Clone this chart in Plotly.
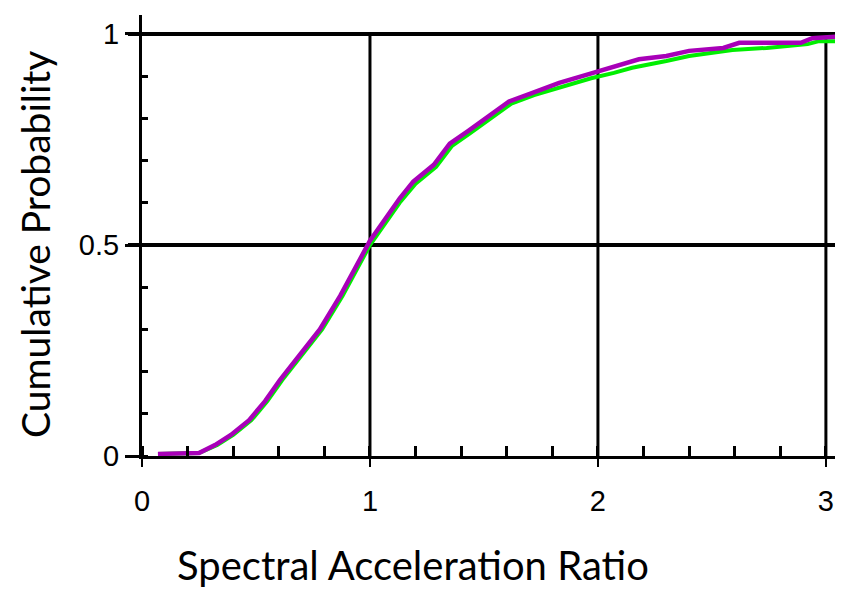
import plotly.graph_objects as go

# Data
x_magenta = [0.07, 0.25, 0.32, 0.39, 0.47, 0.54, 0.605, 0.69, 0.78, 0.87, 0.93, 1.0,
             1.13, 1.19, 1.28, 1.35, 1.43, 1.51, 1.61, 1.71, 1.83, 1.96, 2.08, 2.18,
             2.30, 2.40, 2.55, 2.62, 2.89, 2.94, 3.08]
y_magenta = [0.005, 0.007, 0.026, 0.05, 0.085, 0.13, 0.18, 0.24, 0.30, 0.38, 0.44, 0.51,
             0.61, 0.65, 0.69, 0.74, 0.77, 0.80, 0.84, 0.86, 0.884, 0.905, 0.924, 0.94,
             0.948, 0.96, 0.967, 0.979, 0.979, 0.99, 0.995]

x_green = [0.07, 0.25, 0.33, 0.40, 0.48, 0.55, 0.615, 0.70, 0.79, 0.88, 0.94, 1.0,
           1.13, 1.20, 1.29, 1.36, 1.44, 1.52, 1.62, 1.72, 1.84, 1.97, 2.07, 2.15,
           2.30, 2.40, 2.59, 2.74, 2.92, 2.97, 3.08]
y_green = [0.005, 0.007, 0.026, 0.05, 0.085, 0.13, 0.18, 0.24, 0.30, 0.38, 0.44, 0.50,
           0.60, 0.645, 0.685, 0.735, 0.765, 0.795, 0.835, 0.855, 0.875, 0.895, 0.908, 0.92,
           0.936, 0.948, 0.962, 0.967, 0.976, 0.983, 0.983]

x_ticks = [0, 1, 2, 3]
x_tick_labels = ["0", "1", "2", "3"]
y_ticks = [0, 0.5, 1]
y_tick_labels = ["0", "0.5", "1"]
x_title = "Spectral Acceleration Ratio"
y_title = "Cumulative Probability"

fig = go.Figure()
fig.add_trace(go.Scatter(x=x_green, y=y_green, mode="lines",
                         line=dict(color="#00ee00", width=4), showlegend=False))
fig.add_trace(go.Scatter(x=x_magenta, y=y_magenta, mode="lines",
                         line=dict(color="#a800b8", width=4.5), showlegend=False))

# reference lines (grid)
for xv in [1, 2, 3]:
    fig.add_shape(type="line", x0=xv, x1=xv, y0=0, y1=1, xref="x", yref="y",
                  line=dict(color="black", width=3), layer="below")
for yv in [0.5, 1]:
    fig.add_shape(type="line", x0=-0.02, x1=1, y0=yv, y1=yv, xref="paper", yref="y",
                  line=dict(color="black", width=4), layer="below")

tick_font = dict(size=29, family="Liberation Sans, Arial, sans-serif", color="black")

# page body has an 8px default margin; compensate so the plot sits where the reference has it
fig.update_layout(
    width=835, height=584,
    margin=dict(l=134, r=0, t=7, b=136, autoexpand=False),
    plot_bgcolor="white", paper_bgcolor="white",
    font=dict(family="Liberation Sans, Arial, sans-serif", color="black"),
    xaxis=dict(range=[0, 3.075], showgrid=False, zeroline=False, automargin=False,
               showline=True, linecolor="black", linewidth=3,
               tickmode="array", tickvals=x_ticks, ticktext=x_tick_labels,
               ticks="outside", ticklen=8, tickwidth=2, tickcolor="black",
               ticklabelstandoff=9,
               tickfont=tick_font,
               minor=dict(dtick=0.2, tick0=0, ticks="inside", ticklen=10,
                          tickwidth=3, tickcolor="black", showgrid=False)),
    yaxis=dict(range=[0, 1.045], showgrid=False, zeroline=False, automargin=False,
               showline=True, linecolor="black", linewidth=3,
               tickmode="array", tickvals=y_ticks, ticktext=y_tick_labels,
               ticks="outside", ticklen=14, tickwidth=3, tickcolor="black",
               ticklabelstandoff=0,
               tickfont=tick_font,
               minor=dict(dtick=0.1, tick0=0, ticks="inside", ticklen=6,
                          tickwidth=3, tickcolor="black", showgrid=False)),
)
px_w = 843 - 142
px_h = 456 - 15
fig.add_annotation(text=x_title, xref="paper", yref="paper",
                   x=(413 - 142) / px_w, y=(456 - 565) / px_h,
                   showarrow=False, font=dict(size=40, family="Lato, sans-serif"),
                   xanchor="center", yanchor="middle")
fig.add_annotation(text=y_title, xref="paper", yref="paper",
                   x=(35 - 142) / px_w, y=(456 - 245) / px_h,
                   showarrow=False, textangle=-90,
                   font=dict(size=39, family="Lato, sans-serif"),
                   xanchor="center", yanchor="middle")

fig.write_html("out.html")
